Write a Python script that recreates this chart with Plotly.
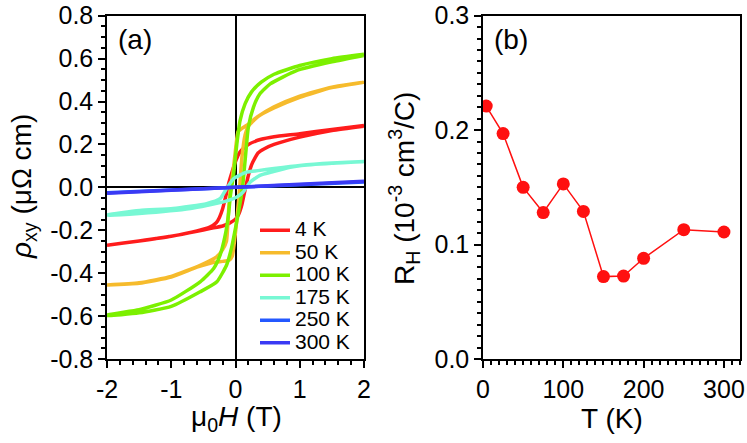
import plotly.graph_objects as go

# ---- panel (a): Hall resistivity loops, field in T, rho_xy in uOhm cm ----
labels = ["4 K", "50 K", "100 K", "175 K", "250 K", "300 K"]
colors = ["#ff1c1c", "#f6bb2c", "#7cf000", "#78f8d4", "#2458ff", "#3a3af4"]

h_4k_down = [2.0, 1.5, 1.0, 0.6, 0.4, 0.2, 0.1, 0.05, 0.0, -0.05, -0.1, -0.15, -0.2, -0.25, -0.3, -0.4, -0.6, -1.0, -1.5, -2.0]
rho_4k_down = [0.288, 0.27, 0.25, 0.236, 0.224, 0.2, 0.175, 0.155, 0.12, 0.075, 0.025, -0.04, -0.1, -0.14, -0.165, -0.185, -0.203, -0.228, -0.25, -0.27]
h_4k_up = [-2.0, -1.5, -1.0, -0.6, -0.4, -0.2, -0.1, 0.0, 0.05, 0.1, 0.15, 0.2, 0.25, 0.3, 0.35, 0.45, 0.6, 1.0, 1.5, 2.0]
rho_4k_up = [-0.27, -0.25, -0.228, -0.205, -0.192, -0.18, -0.168, -0.148, -0.125, -0.08, -0.01, 0.055, 0.105, 0.135, 0.16, 0.18, 0.2, 0.234, 0.265, 0.285]

h_50k_down = [2.0, 1.5, 1.0, 0.6, 0.35, 0.2, 0.1, 0.04, 0.0, -0.04, -0.085, -0.11, -0.14, -0.2, -0.3, -0.55, -1.0, -1.5, -2.0]
rho_50k_down = [0.49, 0.467, 0.425, 0.375, 0.33, 0.295, 0.275, 0.26, 0.175, 0.07, -0.02, -0.12, -0.25, -0.29, -0.325, -0.363, -0.415, -0.445, -0.455]
h_50k_up = [-2.0, -1.5, -1.0, -0.6, -0.35, -0.2, -0.1, -0.05, 0.0, 0.03, 0.06, 0.1, 0.15, 0.2, 0.35, 0.6, 1.0, 1.5, 2.0]
rho_50k_up = [-0.455, -0.447, -0.418, -0.372, -0.35, -0.345, -0.34, -0.32, -0.21, -0.12, -0.02, 0.14, 0.245, 0.285, 0.33, 0.37, 0.42, 0.465, 0.49]

h_100k_down = [2.0, 1.5, 1.0, 0.6, 0.4, 0.25, 0.15, 0.07, 0.02, -0.03, -0.08, -0.11, -0.16, -0.24, -0.34, -0.55, -1.0, -1.5, -2.0]
rho_100k_down = [0.62, 0.6, 0.568, 0.527, 0.49, 0.445, 0.39, 0.31, 0.2, 0.06, -0.04, -0.13, -0.223, -0.316, -0.378, -0.44, -0.525, -0.57, -0.595]
h_100k_up = [-2.0, -1.5, -1.0, -0.55, -0.29, -0.14, -0.06, 0.0, 0.05, 0.09, 0.12, 0.16, 0.2, 0.28, 0.38, 0.54, 0.95, 1.5, 2.0]
rho_100k_up = [-0.598, -0.585, -0.555, -0.487, -0.44, -0.363, -0.28, -0.19, -0.11, -0.04, 0.03, 0.16, 0.28, 0.374, 0.436, 0.482, 0.544, 0.585, 0.615]

h_175k_down = [2.0, 1.5, 1.0, 0.6, 0.35, 0.17, -0.03, -0.14, -0.24, -0.45, -0.97, -1.49, -2.0]
rho_175k_down = [0.12, 0.113, 0.102, 0.088, 0.078, 0.071, 0.04, -0.006, -0.053, -0.076, -0.099, -0.108, -0.128]
h_175k_up = [-2.0, -1.5, -0.7, -0.19, 0.02, 0.12, 0.23, 0.38, 0.59, 0.85, 1.0, 1.5, 2.0]
rho_175k_up = [-0.13, -0.122, -0.099, -0.068, -0.045, -0.022, 0.025, 0.056, 0.074, 0.094, 0.101, 0.112, 0.12]

h_250k = [-2.0, -1.0, 0.0, 1.0, 2.0]
rho_250k = [-0.025, -0.012, 0.0, 0.012, 0.025]
h_300k = [-2.0, -1.0, 0.0, 1.0, 2.0]
rho_300k = [-0.028, -0.014, 0.0, 0.014, 0.028]

# ---- panel (b): Hall coefficient vs temperature ----
T_K = [4, 25, 50, 75, 100, 125, 150, 175, 200, 250, 300]
R_H = [0.221, 0.197, 0.150, 0.128, 0.153, 0.129, 0.072, 0.0725, 0.088, 0.113, 0.111]

loops = [
    (h_4k_down + h_4k_up, rho_4k_down + rho_4k_up),
    (h_50k_down + h_50k_up, rho_50k_down + rho_50k_up),
    (h_100k_down + h_100k_up, rho_100k_down + rho_100k_up),
    (h_175k_down + h_175k_up, rho_175k_down + rho_175k_up),
    (h_250k, rho_250k),
    (h_300k, rho_300k),
]

W, H = 747, 443
FONT = "Liberation Sans, Arial, sans-serif"


def px(x):
    return x / W


def py(y):
    return 1 - y / H


fig = go.Figure()
for (hx, ry), name, c in zip(loops, labels, colors):
    fig.add_trace(go.Scatter(
        x=hx, y=ry, mode="lines", name='<span style="font-size:21px">' + name + "</span>",
        line=dict(color=c, width=3.5, shape="spline", smoothing=0.5),
        xaxis="x", yaxis="y"))

fig.add_trace(go.Scatter(
    x=T_K, y=R_H, mode="lines+markers", showlegend=False,
    line=dict(color="#ff1010", width=1.5), marker=dict(color="#ff1010", size=13),
    xaxis="x2", yaxis="y2"))

ax = dict(showline=True, linecolor="black", linewidth=1.5, mirror=True, showgrid=False,
          automargin=False, ticklabeloverflow="allow",
          ticks="outside", ticklen=7, tickwidth=1.5, tickcolor="black",
          tickfont=dict(size=25, color="black", family=FONT))

y1_ticks = [-0.8, -0.6, -0.4, -0.2, 0.0, 0.2, 0.4, 0.6, 0.8]
x1_ticks = [-2, -1, 0, 1, 2]
y2_ticks = [0.0, 0.1, 0.2, 0.3]
x2_ticks = [0, 100, 200, 300]

fig.update_layout(
    template="none",
    width=W, height=H, margin=dict(l=0, r=0, t=0, b=0, autoexpand=False),
    paper_bgcolor="white", plot_bgcolor="white",
    font=dict(family=FONT, color="black"),
    xaxis=dict(ax, domain=[px(107), px(364)], range=[-2, 2], anchor="y",
               tickmode="array", tickvals=x1_ticks, ticktext=[str(v) for v in x1_ticks],
               zeroline=True, zerolinecolor="black", zerolinewidth=1.5,
               minor=dict(tick0=0, dtick=0.2, ticks="outside", ticklen=4, tickwidth=1.5, tickcolor="black")),
    yaxis=dict(ax, domain=[py(359), py(15.7)], range=[-0.8, 0.8], anchor="x",
               tickmode="array", tickvals=y1_ticks, ticktext=[f"{v:.1f}" for v in y1_ticks],
               zeroline=True, zerolinecolor="black", zerolinewidth=1.5,
               minor=dict(tick0=0, dtick=0.05, ticks="outside", ticklen=4, tickwidth=1.5, tickcolor="black")),
    xaxis2=dict(ax, domain=[px(483), px(740)], range=[0, 320], anchor="y2",
                tickmode="array", tickvals=x2_ticks, ticktext=[str(v) for v in x2_ticks], zeroline=False,
                minor=dict(tick0=0, dtick=10, ticks="outside", ticklen=4, tickwidth=1.5, tickcolor="black")),
    yaxis2=dict(ax, domain=[py(359), py(15.7)], range=[0, 0.3], anchor="x2",
                tickmode="array", tickvals=y2_ticks, ticktext=[f"{v:.1f}" for v in y2_ticks], zeroline=False,
                minor=dict(tick0=0, dtick=0.01, ticks="outside", ticklen=4, tickwidth=1.5, tickcolor="black")),
    legend=dict(x=px(255), y=py(214), xanchor="left", yanchor="top",
                bgcolor="rgba(0,0,0,0)", font=dict(size=15, family=FONT, color="black")),
    showlegend=True,
)

tfont = dict(size=28, family=FONT, color="black")
notes = [
    ("\u03bc<sub>0</sub><i>H</i> (T)", 236, 418, 0),
    ("<i>\u03c1</i><sub>xy</sub> (\u03bc\u03a9 cm)", 24, 187, -90),
    ("T (K)", 612, 418, 0),
    ("R<sub>H</sub> (10<sup>-3</sup> cm<sup>3</sup>/C)", 404, 188, -90),
    ("(a)", 135, 40, 0),
    ("(b)", 511, 40, 0),
]
for txt, x, y, ang in notes:
    fig.add_annotation(text=txt, x=px(x), y=py(y), xref="paper", yref="paper", showarrow=False,
                       xanchor="center", yanchor="middle", textangle=ang, font=tfont)

# drop the default 8px page margin so the figure sits at the window's corner
fig.write_html("out.html", config={"displayModeBar": False},
               post_script="document.body.style.margin='0';")
